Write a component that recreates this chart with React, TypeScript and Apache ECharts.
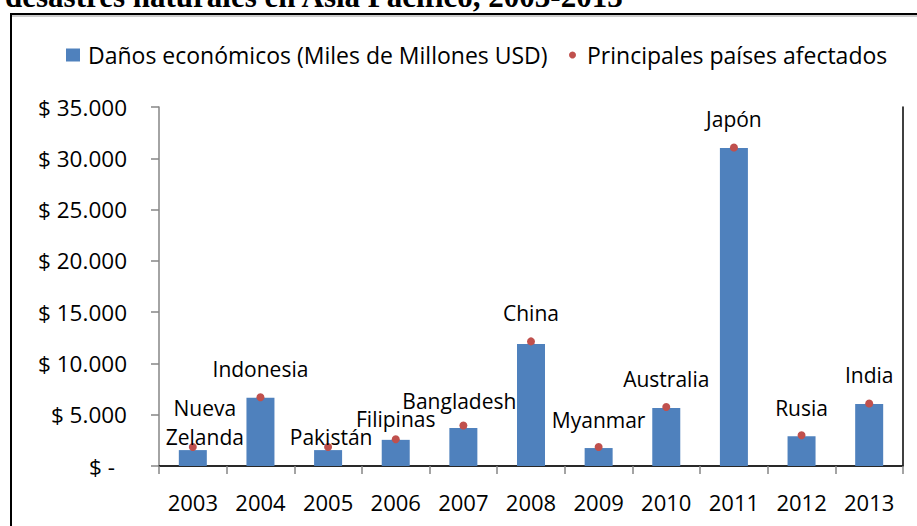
import React, { useEffect, useRef } from 'react';
import * as echarts from 'echarts';

const years = ['2003', '2004', '2005', '2006', '2007', '2008', '2009', '2010', '2011', '2012', '2013'];
const damages = [1550, 6650, 1550, 2550, 3700, 11900, 1750, 5650, 31000, 2900, 6050];
const markerValues = [1850, 6700, 1850, 2600, 3950, 12150, 1850, 5750, 31050, 3000, 6100];
const countries = ['Nueva\nZelanda', 'Indonesia', 'Pakistán', 'Filipinas', 'Bangladesh', 'China', 'Myanmar', 'Australia', 'Japón', 'Rusia', 'India'];
const labelOffsets: [number, number][] = [[12, 18], [0, 0], [3, 18], [0, 8], [-4, 4], [0, 0], [0, 1], [0, 0], [0, 0], [0, 1], [0, 0]];
const yMin = 0;
const yMax = 35000;
const yInterval = 5000;

const S1 = 'Daños económicos (Miles de Millones USD)';
const S2 = 'Principales países afectados';
const TITLE = 'desastres naturales en Asia Pacífico, 2003-2013';
const FONT = '"Open Sans", sans-serif';

function fmt(v: number): string {
  if (v === 0) return '{z|$ -}';
  return '$ ' + String(v).replace(/\B(?=(\d{3})+(?!\d))/g, '.');
}

export default function App() {
  const ref = useRef<HTMLDivElement>(null);
  useEffect(() => {
    const chart = echarts.init(ref.current!, null, { renderer: 'svg' });
    const gray = '#868686';
    chart.setOption({
      animation: false,
      backgroundColor: '#fff',
      textStyle: { fontFamily: FONT },
      grid: { left: 159, right: 14, top: 107, bottom: 60, containLabel: false },
      legend: [
        {
          data: [{ name: S1, icon: 'rect' }],
          left: 66, top: 42, padding: 0,
          itemWidth: 14, itemHeight: 13,
          textStyle: { fontSize: 23, color: '#000', fontFamily: FONT, padding: [0, 0, 0, 3], lineHeight: 26 },
        },
        {
          data: [{ name: S2, icon: 'circle' }],
          left: 569, top: 42, padding: 0,
          itemWidth: 7, itemHeight: 7,
          textStyle: { fontSize: 23, color: '#000', fontFamily: FONT, padding: [0, 0, 0, 6], lineHeight: 26 },
        },
      ],
      xAxis: [
        {
          type: 'category', data: years, position: 'bottom',
          axisLine: { lineStyle: { color: gray, width: 1.5 } },
          axisTick: { show: true, length: 8, lineStyle: { color: gray, width: 1.5 } },
          axisLabel: { margin: 25, fontSize: 22, color: '#000', fontFamily: FONT },
        },
        {
          type: 'category', data: years, position: 'top',
          axisLine: { lineStyle: { color: '#000', width: 1.5 } },
          axisTick: { show: false }, axisLabel: { show: false },
        },
      ],
      yAxis: [
        {
          type: 'value', min: yMin, max: yMax, interval: yInterval,
          axisLine: { show: true, lineStyle: { color: gray, width: 1.5 } },
          axisTick: { show: true, length: 8, lineStyle: { color: gray, width: 1.5 } },
          splitLine: { show: false },
          axisLabel: {
            margin: 32, fontSize: 22.5, color: '#000', fontFamily: FONT,
            formatter: fmt,
            rich: { z: { padding: [0, 12, 0, 0], fontSize: 22.5, fontFamily: FONT, color: '#000' } },
          },
        },
        {
          type: 'value', min: yMin, max: yMax, interval: yInterval, position: 'right',
          axisLine: { show: true, lineStyle: { color: '#000', width: 1.5 } },
          axisTick: { show: false }, axisLabel: { show: false }, splitLine: { show: false },
        },
      ],
      series: [
        {
          type: 'bar', name: S1, data: damages, barWidth: 28,
          itemStyle: { color: '#4F81BD' },
        },
        {
          type: 'scatter', name: S2, symbol: 'circle', symbolSize: 8,
          itemStyle: { color: '#C0504D', opacity: 1 },
          data: markerValues.map((v, i) => ({ value: v, label: { offset: labelOffsets[i] } })),
          label: {
            show: true, position: 'top', distance: 10,
            formatter: (p: any) => countries[p.dataIndex],
            fontSize: 21, color: '#000', fontFamily: FONT, lineHeight: 29,
          },
          z: 3,
        },
      ],
      graphic: [
        {
          type: 'text', x: 5, y: 12,
          style: { text: TITLE, font: 'bold 31px "Liberation Serif"', fill: '#000', verticalAlign: 'bottom' },
        },
        { type: 'line', shape: { x1: 10, y1: 14, x2: 917, y2: 14 }, style: { stroke: '#000', lineWidth: 2 } },
        { type: 'line', shape: { x1: 10, y1: 16, x2: 917, y2: 16 }, style: { stroke: '#999', lineWidth: 1 } },
        { type: 'line', shape: { x1: 11, y1: 13, x2: 11, y2: 526 }, style: { stroke: '#000', lineWidth: 2 } },
      ],
    });
    return () => chart.dispose();
  }, []);
  return <div ref={ref} style={{ position: 'fixed', left: 0, top: 0, width: 917, height: 526, background: '#fff' }} />;
}
